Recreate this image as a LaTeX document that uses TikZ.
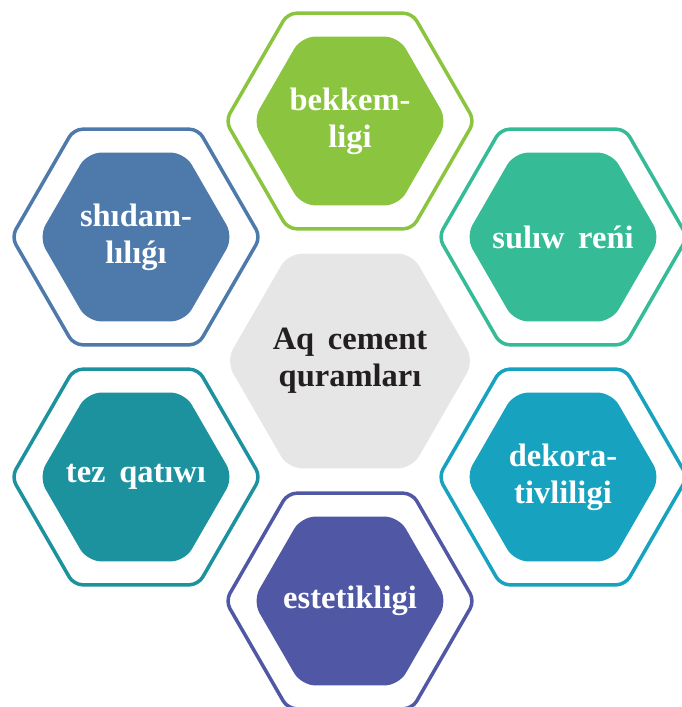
\documentclass[tikz,border=0pt]{standalone}
\usepackage{fontspec}
\setmainfont{Liberation Serif}
\usepackage{xcolor}
\usepackage{tikz}
\usetikzlibrary{positioning,shapes.geometric}
\definecolor{leaf}{HTML}{8BC53F}
\definecolor{steel}{HTML}{4E7AAB}
\definecolor{mint}{HTML}{36BB97}
\definecolor{lagoon}{HTML}{1C929F}
\definecolor{sky}{HTML}{17A2BF}
\definecolor{indigo}{HTML}{5058A6}
\definecolor{mist}{HTML}{E6E6E6}
\definecolor{ink}{HTML}{231F20}
\newcommand{\widegap}{\spaceskip=0.42em\relax}

\begin{document}
\begin{tikzpicture}[x=0.02cm,y=-0.02cm,font=\fontsize{18.5}{21}\selectfont\bfseries,
  hexring/.style={regular polygon,regular polygon sides=6,minimum size=4.98cm,inner sep=0pt,
    draw=#1,line width=2pt,rounded corners=5pt},
  hexcell/.style={regular polygon,regular polygon sides=6,minimum size=3.9cm,inner sep=0pt,
    fill=#1,rounded corners=8pt},
  hextext/.style={text=white,align=center,inner sep=0pt,execute at begin node=\widegap}]
  \useasboundingbox (0,0) rectangle (681,707);
  % middle
  \node[regular polygon,regular polygon sides=6,minimum size=4.96cm,inner sep=0pt,
    fill=mist,rounded corners=8pt] (core) at (350,361) {};
  \node[hextext,text=ink] (core-txt) at (core) {Aq cement\\quramları};
  % the six around it
  \foreach \x/\y/\col/\nm/\txt in {350/121/leaf/top/{bekkem-\\ligi},
      136/237/steel/upleft/{shıdam-\\lılıǵı},
      563/237/mint/upright/{sulıw reńi},
      136/477/lagoon/lowleft/{tez qatıwı},
      563/477/sky/lowright/{dekora-\\tivliligi},
      350/601/indigo/bottom/{estetikligi}}
  {
    \node[hexring=\col] (ring-\nm) at (\x,\y) {};
    \node[hexcell=\col] (cell-\nm) at (\x,\y) {};
    \node[hextext] (txt-\nm) at (cell-\nm) {\txt};
  }
\end{tikzpicture}
\end{document}
